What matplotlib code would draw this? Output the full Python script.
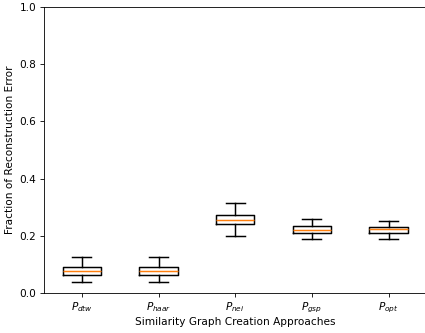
import matplotlib
matplotlib.use("Agg")
import matplotlib.pyplot as plt

labels = [r"$P_{dtw}$", r"$P_{haar}$", r"$P_{nei}$", r"$P_{gsp}$", r"$P_{opt}$"]
whislo = [0.040, 0.040, 0.199, 0.190, 0.189]
q1 = [0.063, 0.063, 0.240, 0.211, 0.211]
med = [0.076, 0.076, 0.256, 0.221, 0.223]
q3 = [0.091, 0.091, 0.273, 0.233, 0.231]
whishi = [0.125, 0.125, 0.316, 0.259, 0.252]

stats = []
for i in range(len(labels)):
    stats.append(dict(label=labels[i], whislo=whislo[i], q1=q1[i], med=med[i],
                      q3=q3[i], whishi=whishi[i], fliers=[]))

D = 76
fig = plt.figure(figsize=(425 / D, 333 / D), dpi=D)
ax = fig.add_axes([0.1024, 0.120, 0.902, 0.859])
lw = 1.4
ax.bxp(stats, showfliers=False,
       boxprops=dict(linewidth=lw, color="black"),
       whiskerprops=dict(linewidth=lw, color="black"),
       capprops=dict(linewidth=lw, color="black"),
       medianprops=dict(linewidth=lw, color="#ff7f0e"))
ax.set_ylim(0, 1.0)
ax.set_yticks([0.0, 0.2, 0.4, 0.6, 0.8, 1.0])
ax.set_ylabel("Fraction of Reconstruction Error")
ax.set_xlabel("Similarity Graph Creation Approaches", labelpad=2)
fig.savefig("out.png", dpi=D)
